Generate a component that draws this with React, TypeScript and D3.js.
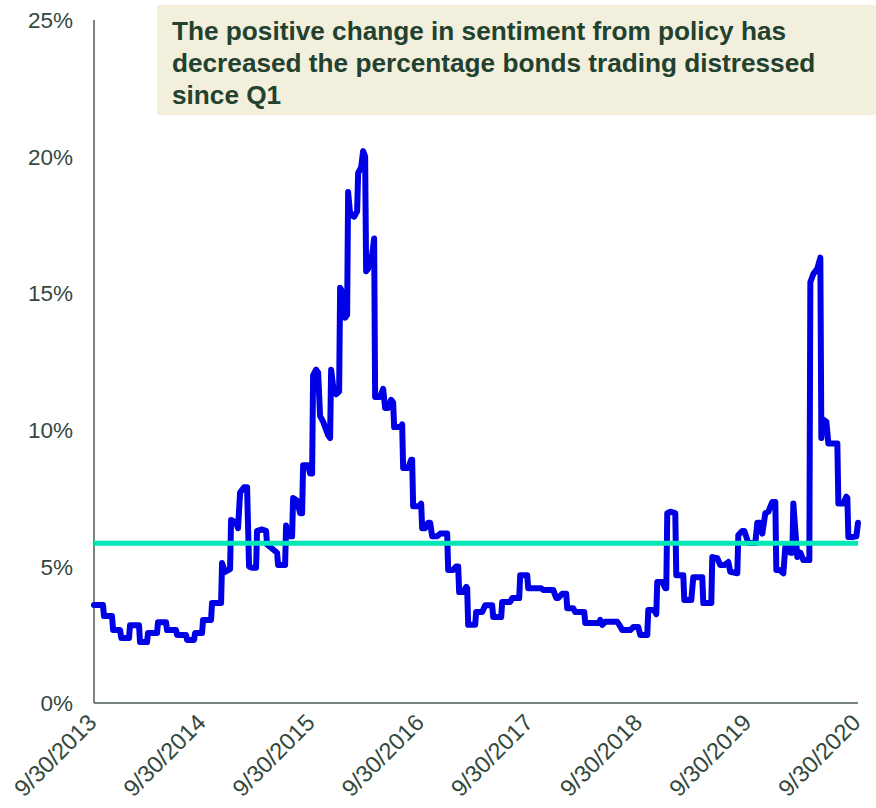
import React from "react";
import * as d3 from "d3";

// months since 9/30/2013
const monthsSinceStart = [
  0, 0.99, 1.1, 1.98, 2.1, 2.86, 3.0, 3.85, 3.96, 4.95, 5.06, 5.83, 5.94, 6.93, 7.04, 7.92, 8.03, 9.02, 9.13, 10.12,
  10.23, 11.0, 11.11, 11.88, 11.99, 12.87, 12.98, 13.97, 14.08, 14.41, 14.96, 15.07, 15.62, 15.84, 16.06, 16.5, 16.83,
  17.05, 17.38, 17.82, 17.93, 18.48, 18.92, 19.03, 20.13, 20.24, 21.01, 21.12, 21.45, 21.78, 21.89, 22.33, 22.66, 22.88,
  22.99, 23.54, 23.76, 23.98, 24.09, 24.42, 24.64, 24.86, 25.19, 25.74, 25.96, 26.07, 26.29, 26.62, 26.95, 27.06, 27.39,
  27.61, 27.83, 27.94, 28.16, 28.6, 28.93, 29.04, 29.37, 29.59, 29.81, 29.92, 30.14, 30.36, 30.58, 30.8, 30.91, 31.46,
  31.79, 32.01, 32.34, 32.67, 32.89, 33.0, 33.77, 33.88, 33.99, 34.54, 34.87, 34.98, 35.09, 35.75, 35.97, 36.08, 36.41,
  36.74, 36.96, 37.18, 37.73, 38.06, 38.83, 38.94, 39.49, 39.82, 40.04, 40.15, 40.59, 40.92, 41.03, 41.14, 41.91, 42.02,
  42.68, 43.01, 43.78, 43.89, 44.77, 44.88, 45.76, 45.98, 46.75, 46.86, 47.63, 47.74, 49.17, 49.39, 50.49, 50.82, 51.04,
  51.48, 51.92, 52.03, 52.69, 52.91, 53.9, 54.01, 55.55, 55.66, 55.88, 56.21, 57.53, 57.75, 58.08, 58.96, 59.29, 59.84,
  60.06, 60.83, 60.94, 61.6, 61.82, 61.93, 62.48, 62.81, 62.92, 63.03, 63.36, 63.91, 64.02, 64.79, 64.9, 65.67, 65.89,
  66.88, 66.99, 67.87, 67.98, 68.53, 68.86, 69.3, 69.74, 69.96, 70.73, 70.84, 71.28, 71.5, 71.94, 72.71, 72.93, 73.26,
  73.48, 73.81, 74.14, 74.58, 74.91, 75.02, 75.35, 75.79, 76.01, 76.34, 76.56, 76.78, 76.89, 77.33, 77.66, 77.99, 78.65,
  78.76, 79.09, 79.53, 79.86, 79.97, 80.08, 80.52, 80.74, 81.73, 81.84, 82.39, 82.72, 82.83, 82.94, 83.49, 83.82, 84.0,
];

const pctDistressed = [
  3.59, 3.59, 3.18, 3.18, 2.67, 2.67, 2.38, 2.38, 2.85, 2.85, 2.23, 2.23, 2.56, 2.56, 2.96, 2.96, 2.67, 2.67, 2.49, 2.49,
  2.31, 2.31, 2.56, 2.56, 3.04, 3.04, 3.66, 3.66, 5.12, 4.8, 4.9, 6.7, 6.6, 6.4, 7.7, 7.9, 7.9,
  5.0, 4.95, 4.95, 6.3, 6.35, 6.3, 5.8, 5.5, 5.05, 5.05, 6.5, 6.1, 6.1, 7.5, 7.4, 6.95, 6.95,
  8.7, 8.7, 8.4, 8.4, 12.0, 12.2, 12.1, 10.5, 10.3, 9.8, 9.7, 12.2, 11.6, 11.3, 11.4, 15.2, 15.0,
  14.1, 14.2, 18.7, 17.9, 17.8, 18.0, 19.4, 19.6, 20.2, 20.0, 15.8, 15.9, 16.3, 16.4, 17.0, 11.2, 11.2,
  11.5, 10.8, 10.8, 11.1, 11.0, 10.1, 10.1, 10.2, 8.6, 8.6, 8.9, 8.9, 7.2, 7.2, 7.3, 6.4, 6.4,
  6.6, 6.6, 6.1, 6.1, 6.2, 6.2, 4.87, 4.87, 5.0, 5.0, 4.06, 4.06, 4.25, 4.2, 2.86, 2.86, 3.33,
  3.33, 3.58, 3.58, 3.15, 3.15, 3.7, 3.7, 3.84, 3.84, 4.68, 4.68, 4.2, 4.2, 4.14, 4.14, 3.84, 3.84,
  4.0, 4.0, 3.47, 3.47, 3.33, 3.33, 2.93, 2.93, 3.04, 2.86, 2.97, 2.97, 2.86, 2.67, 2.67, 2.78, 2.78,
  2.49, 2.49, 3.4, 3.4, 3.25, 4.43, 4.43, 4.2, 4.2, 6.95, 7.0, 6.95, 4.68, 4.68, 3.77, 3.77, 4.6,
  4.6, 3.66, 3.66, 5.34, 5.3, 5.05, 5.05, 5.16, 4.8, 4.75, 6.15, 6.3, 6.3, 5.86, 5.86, 6.6, 6.6,
  6.2, 6.95, 7.0, 7.36, 7.36, 4.87, 4.87, 4.75, 5.7, 5.7, 5.5, 5.5, 7.3, 5.34, 5.5, 5.23, 5.23,
  15.4, 15.7, 15.9, 16.3, 9.7, 10.4, 10.3, 9.5, 9.5, 7.3, 7.3, 7.55, 7.5, 6.08, 6.08, 6.1, 6.6,
];

const referenceLevel = 5.85;
const yTicks = [0, 5, 10, 15, 20, 25];
const xTickMonths = [0, 12, 24, 36, 48, 60, 72, 84];
const xTickLabels = ["9/30/2013", "9/30/2014", "9/30/2015", "9/30/2016", "9/30/2017", "9/30/2018", "9/30/2019", "9/30/2020"];
const noteLines = [
  "The positive change in sentiment from policy has",
  "decreased the percentage bonds trading distressed",
  "since Q1",
];

const W = 876;
const H = 808;

export default function App() {
  const x = d3.scaleLinear().domain([0, 84]).range([94, 858]);
  const y = d3.scaleLinear().domain([0, 25]).range([703, 20]);
  const pts = monthsSinceStart.map((m, i) => [m, pctDistressed[i]] as [number, number]);
  const line = d3
    .line<[number, number]>()
    .x((d) => x(d[0]))
    .y((d) => y(d[1]));
  const axisColor = "#4b5d53";
  const textColor = "#33493d";
  const font = "'Liberation Sans', Arial, sans-serif";
  return (
    <svg width={W} height={H} style={{ position: "absolute", left: 0, top: 0 }} fontFamily={font}>
      <rect x={157} y={5} width={719} height={110} fill="#f2efdc" />
      {noteLines.map((t, i) => (
        <text key={i} x={172} y={40 + i * 32} fontSize={26.2} fontWeight="bold" fill="#22412f">
          {t}
        </text>
      ))}
      {yTicks.map((t) => (
        <text key={t} x={73} y={y(t)} dy="0.36em" textAnchor="end" fontSize={22.5} fill={textColor}>
          {t}%
        </text>
      ))}
      {xTickMonths.map((m, i) => (
        <text
          key={m}
          transform={`translate(${x(m) + 4},${724}) rotate(-45)`}
          textAnchor="end"
          fontSize={23.5}
          fill={textColor}
        >
          {xTickLabels[i]}
        </text>
      ))}
      <line x1={x(0)} x2={x(0)} y1={y(25)} y2={y(0)} stroke={axisColor} strokeWidth={1.5} />
      <line x1={x(0)} x2={x(84)} y1={y(0)} y2={y(0)} stroke={axisColor} strokeWidth={1.5} />
      <path d={line(pts) || ""} fill="none" stroke="#0000e6" strokeWidth={6} strokeLinejoin="round" strokeLinecap="round" />
      <line x1={x(0)} x2={x(84)} y1={y(referenceLevel)} y2={y(referenceLevel)} stroke="#00e6b4" strokeWidth={5} />
    </svg>
  );
}
